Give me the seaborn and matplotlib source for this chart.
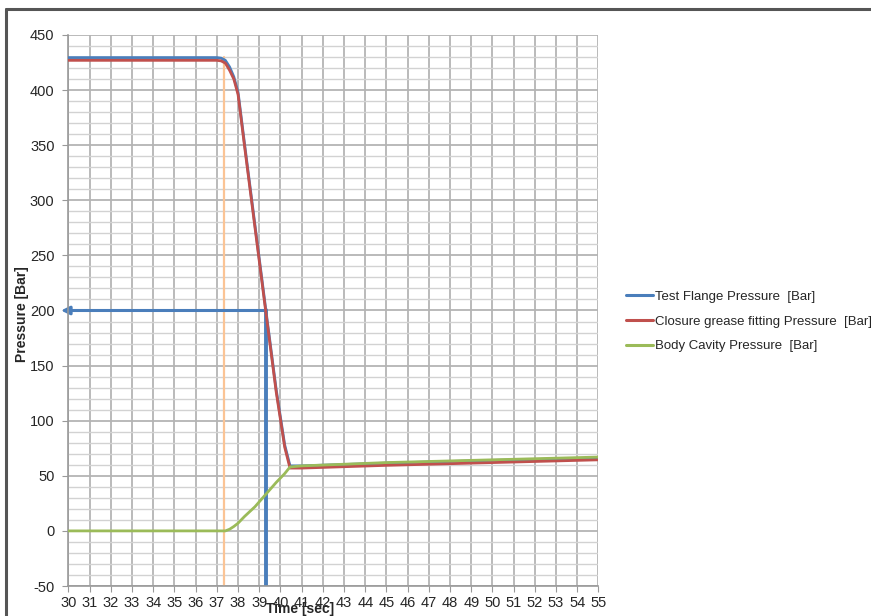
import matplotlib
matplotlib.use("Agg")
import matplotlib.pyplot as plt
from matplotlib.lines import Line2D
import pandas as pd
import seaborn as sns

# Data
time_sec = [30, 37.0, 37.2, 37.4, 37.6, 37.8, 38.0, 38.3, 38.8, 39.3, 39.8, 40.2, 40.45, 41, 45, 50, 55]
test_flange = [429.5, 429.5, 429, 427, 421, 412, 398, 352, 277, 202, 128, 78, 59, 59, 61.5, 64, 66]
closure_grease = [427, 427, 426.5, 424.5, 418, 410, 396, 350, 275, 200, 126, 76, 57, 57, 59.5, 62, 64.5]
body_cavity = [0, 0, 0, 0, 1.5, 4, 7, 13, 22, 33, 44, 52, 58, 59, 62, 64.5, 67]

series_names = ["Test Flange Pressure  [Bar]",
                "Closure grease fitting Pressure  [Bar]",
                "Body Cavity Pressure  [Bar]"]
series_colors = ["#4a7ebb", "#c0504d", "#9bbb59"]

marker_time = 39.3      # blue reading line
marker_pressure = 200
start_time = 37.35      # orange line
start_top = 430

x_ticks = list(range(30, 56))
y_ticks = list(range(-50, 451, 50))

df = pd.DataFrame({
    "time": time_sec * 3,
    "pressure": test_flange + closure_grease + body_cavity,
    "series": [series_names[0]] * len(time_sec)
    + [series_names[1]] * len(time_sec)
    + [series_names[2]] * len(time_sec),
})

sns.set_style("white")
plt.rcParams["font.family"] = ["Liberation Sans", "DejaVu Sans"]
plt.rcParams["axes.unicode_minus"] = False

fig = plt.figure(figsize=(8.71, 6.16), dpi=100)
ax = fig.add_axes([0.0786, 0.0487, 0.6085, 0.8945])

ax.set_xlim(30, 55)
ax.set_ylim(-50, 450)
ax.set_xticks(x_ticks)
ax.set_yticks(y_ticks)
ax.set_yticks(range(-50, 451, 10), minor=True)
ax.grid(True, which="major", color="#b4b4b4", linewidth=1.3)
ax.grid(True, which="minor", axis="y", color="#d2d2d2", linewidth=1.0)
ax.set_axisbelow(True)

# orange start line and blue reading lines
ax.plot([start_time, start_time], [-50, start_top], color="#fbc495", linewidth=1.6, zorder=2)
ax.plot([marker_time, marker_time], [-50, marker_pressure], color="#4a7ebb", linewidth=2.8, zorder=2)
ax.annotate("", xy=(29.65, marker_pressure), xytext=(marker_time, marker_pressure),
            arrowprops=dict(arrowstyle="-|>", color="#4a7ebb", lw=2.2,
                            mutation_scale=12, shrinkA=0, shrinkB=0),
            annotation_clip=False, zorder=2)

sns.lineplot(data=df, x="time", y="pressure", hue="series", palette=series_colors,
             hue_order=series_names, linewidth=2.0, ax=ax, legend=False, sort=False, zorder=3)

ax.tick_params(axis="both", labelsize=10.5, length=4, color="#999999", direction="out",
               left=True, bottom=True)
ax.tick_params(axis="y", pad=6)
ax.tick_params(axis="x", pad=3)
ax.tick_params(which="minor", length=0)
for side in ["top", "right"]:
    ax.spines[side].set_visible(False)
for side in ["left", "bottom"]:
    ax.spines[side].set_color("#999999")
    ax.spines[side].set_linewidth(1.2)

ax.set_xlabel("")
ax.set_ylabel("")
fig.text(0.025, 0.49, "Pressure [Bar]", rotation=90, ha="center", va="center",
         fontsize=10, fontweight="bold")
fig.text(0.345, 0.0, "Time [sec]", ha="center", va="bottom",
         fontsize=10, fontweight="bold")

handles = [Line2D([0], [0], color=c, linewidth=2.2) for c in series_colors]
fig.legend(handles, series_names, loc="center left", bbox_to_anchor=(0.713, 0.478),
           frameon=False, fontsize=9.5, handlelength=2.0, handletextpad=0.15,
           labelspacing=0.95, borderaxespad=0)

# chart frame (top and left edges visible)
fig.add_artist(Line2D([0.007, 1.0], [0.986, 0.986], color="#555555", linewidth=2.2))
fig.add_artist(Line2D([0.007, 0.007], [0.0, 0.986], color="#555555", linewidth=2.2))

fig.savefig("out.png", dpi=100)
